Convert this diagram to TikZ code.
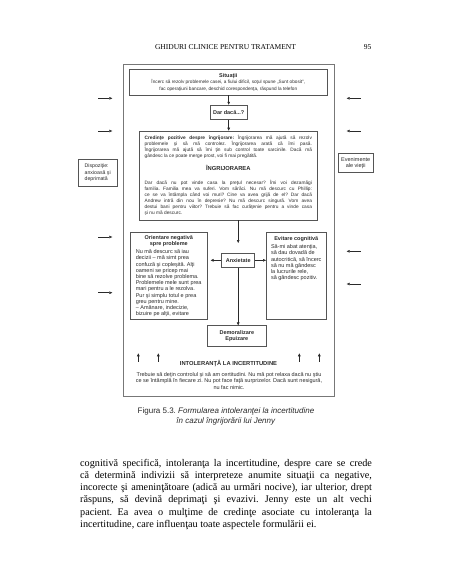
\documentclass[tikz,border=0pt]{standalone}
\usepackage{fontspec}
\setmainfont{Liberation Serif}
\newfontfamily\arial{Liberation Sans}
\usetikzlibrary{arrows.meta}

\definecolor{boxgray}{HTML}{555555}
\definecolor{inkgray}{HTML}{2A2A2A}

% one line of a box, of the full box width
\newcommand{\jrow}[1]{\makebox[\hsize][s]{#1}}
\newcommand{\lrow}[1]{\makebox[\hsize][l]{#1}}
\newcommand{\crow}[1]{\makebox[\hsize][c]{#1}}
\newcommand{\dtext}{\arial\fontsize{5.5}{6.2}\selectfont}
\newcommand{\dsmall}{\arial\fontsize{4.8}{6.15}\selectfont}
\newcommand{\dhead}{\arial\bfseries\fontsize{5.8}{6.2}\selectfont}

\begin{document}
\frenchspacing
\begin{tikzpicture}[x=1pt,y=-1pt,
  box/.style={draw=boxgray, line width=0.6pt, inner xsep=0pt, inner ysep=0pt, text=inkgray},
  arr/.style={-{Triangle[length=3pt,width=2.6pt]}, line width=0.5pt, draw=inkgray},
  bodyline/.style={anchor=base west, inner sep=0pt, font=\fontsize{10.2}{12.26}\selectfont}]
  \useasboundingbox (0,0) rectangle (452,584);

  % page header
  \node[inner sep=0pt, font=\fontsize{7.5}{9}\selectfont] (head) at (225.5,46.7) {GHIDURI CLINICE PENTRU TRATAMENT};
  \node[inner sep=0pt, font=\fontsize{7.5}{9}\selectfont] (page) at (367.7,46.7) {95};

  % figure frame
  \node[draw=boxgray!80, line width=0.8pt, minimum width=211.3pt, minimum height=331.7pt] (frame) at (228.65,230.15) {};

  \node[box, minimum width=198pt, minimum height=25.7pt, align=center, font=\arial\fontsize{4.7}{6.65}\selectfont] (sit) at (228.3,82.2)
    {{\dtext\bfseries Situaţii}\\ Încerc să rezolv problemele casei, a fiului dificil, soţul spune „Sunt obosit”,\\ fac operaţiuni bancare, deschid corespondenţa, răspund la telefon};
  \node[box, minimum width=36.7pt, minimum height=14.3pt, font=\dtext\bfseries] (dar) at (228.7,112.2) {Dar dacă...?};

  \node[box, minimum width=178pt, minimum height=89pt, font=\dsmall] (cred) at (228.3,175.5)
    {\parbox{167.3pt}{\jrow{\textbf{Credinţe pozitive despre îngrijorare:} Îngrijorarea mă ajută să rezolv}\\
     \jrow{problemele şi să mă controlez. Îngrijorarea arată că îmi pasă.}\\
     \jrow{Îngrijorarea mă ajută să îmi ţin sub control toate sarcinile. Dacă mă}\\
     \lrow{gândesc la ce poate merge prost, voi fi mai pregătită.}\\[5.9pt]
     \crow{\dhead ÎNGRIJORAREA}\\[6.9pt]
     \jrow{Dar dacă nu pot vinde casa la preţul necesar? Îmi voi dezamăgi}\\
     \jrow{familia. Familia mea va suferi. Vom sărăci. Nu mă descurc cu Phillip:}\\
     \jrow{ce se va întâmpla când voi muri? Cine va avea grijă de el? Dar dacă}\\
     \jrow{Andrew intră din nou în depresie? Nu mă descurc singură. Vom avea}\\
     \jrow{destui bani pentru viitor? Trebuie să fac curăţenie pentru a vinde casa}\\
     \lrow{şi nu mă descurc.}}};

  \node[box, minimum width=77pt, minimum height=86.6pt, font=\dtext] (orient) at (168.8,276)
    {\parbox{66pt}{\crow{\bfseries Orientare negativă}\\ \crow{\bfseries spre probleme}\\[2.2pt]
     \lrow{Nu mă descurc să iau}\\ \lrow{decizii – mă simt prea}\\ \lrow{confuză şi copleşită. Alţi}\\
     \lrow{oameni se pricep mai}\\ \lrow{bine să rezolve problema.}\\ \lrow{Problemele mele sunt prea}\\
     \lrow{mari pentru a le rezolva.}\\ \lrow{Pur şi simplu totul e prea}\\ \lrow{greu pentru mine.}\\
     \lrow{– Amânare, indecizie,}\\ \lrow{bizuire pe alţii, evitare}}};
  \node[box, minimum width=60pt, minimum height=86.6pt, font=\dtext] (evit) at (296.3,276)
    {\parbox[c][80pt][t]{50.6pt}{\crow{\bfseries Evitare cognitivă}\\[2.5pt]
     \lrow{Să-mi abat atenţia,}\\ \lrow{să dau dovadă de}\\ \lrow{autocritică, să încerc}\\
     \lrow{să nu mă gândesc}\\ \lrow{la lucrurile rele,}\\ \lrow{să gândesc pozitiv.}}};
  \node[box, minimum width=33pt, minimum height=14pt, font=\dtext\bfseries] (anx) at (238.2,260.3) {Anxietate};
  \node[box, minimum width=59pt, minimum height=21pt, align=center, font=\arial\bfseries\fontsize{5.5}{6.6}\selectfont] (demo) at (236.8,336.2) {Demoralizare\\ Epuizare};

  \node[box, minimum width=39pt, minimum height=27.3pt, font=\arial\fontsize{5.2}{6.2}\selectfont] (disp) at (98.2,172.7)
    {\parbox{27pt}{\lrow{Dispoziţie:}\\ \lrow{anxioasă şi}\\ \lrow{deprimată}}};
  \node[box, minimum width=34.7pt, minimum height=19pt, align=center, font=\arial\fontsize{5.5}{6.3}\selectfont] (even) at (355.7,162.8) {Evenimente\\ ale vieţii};

  \node[inner sep=0pt, font=\dhead, text=inkgray] (intol) at (228.5,364) {INTOLERANŢĂ LA INCERTITUDINE};
  \node[inner sep=0pt, align=center, font=\arial\fontsize{5.5}{6.35}\selectfont, text=inkgray] (intoltxt) at (229,380.7)
    {Trebuie să deţin controlul şi să am certitudini. Nu mă pot relaxa dacă nu ştiu\\
     ce se întâmplă în fiecare zi. Nu pot face faţă surprizelor. Dacă sunt nesigură,\\ nu fac nimic.};

  % connectors
  \draw[arr] (sit.south -| dar.north) -- (dar.north);
  \draw[arr] (dar.south) -- (dar.south |- cred.north);
  \draw[arr, shorten >=10pt] (cred.south -| anx.north) -- (anx.north);
  \draw[arr, shorten >=3pt] (anx.west) -- (anx.west -| orient.east);
  \draw[arr] (anx.east) -- (anx.east -| evit.west);
  \draw[arr] (anx.south) -- (anx.south |- demo.north);

  % influences from outside
  \foreach \y [count=\i] in {98.3,131,237,292.7} {
    \coordinate (lin\i) at (98.3,\y);
    \draw[arr] (lin\i) -- ++(14,0);
  }
  \foreach \y [count=\i] in {98.3,131,251.3,284} {
    \coordinate (rin\i) at (360.7,\y);
    \draw[arr] (rin\i) -- ++(-14,0);
  }
  \foreach \x [count=\i] in {138.3,158.3,299.3,319.3} {
    \coordinate (up\i) at (\x,361.7);
    \draw[arr] (up\i) -- ++(0,-8.4);
  }

  % caption
  \node[inner sep=0pt, align=center, font=\arial\fontsize{8}{10}\selectfont, text=inkgray] (caption) at (226,416.7)
    {Figura 5.3. \textit{Formularea intoleranţei la incertitudine}\\ \textit{în cazul îngrijorării lui Jenny}};

  % body text
  \foreach \txt [count=\i] in {
    {cognitivă specifică, intoleranţa la incertitudine, despre care se crede},
    {că determină indivizii să interpreteze anumite situaţii ca negative,},
    {incorecte şi ameninţătoare (adică au urmări nocive), iar ulterior, drept},
    {răspuns, să devină deprimaţi şi evazivi. Jenny este un alt vechi},
    {pacient. Ea avea o mulţime de credinţe asociate cu intoleranţa la}}
    \node[bodyline] (body\i) at (80,{466+(\i-1)*12.26}) {\makebox[291.7pt][s]{\txt}};
  \node[bodyline] (body6) at (80,527.3) {incertitudine, care influenţau toate aspectele formulării ei.};
\end{tikzpicture}
\end{document}
